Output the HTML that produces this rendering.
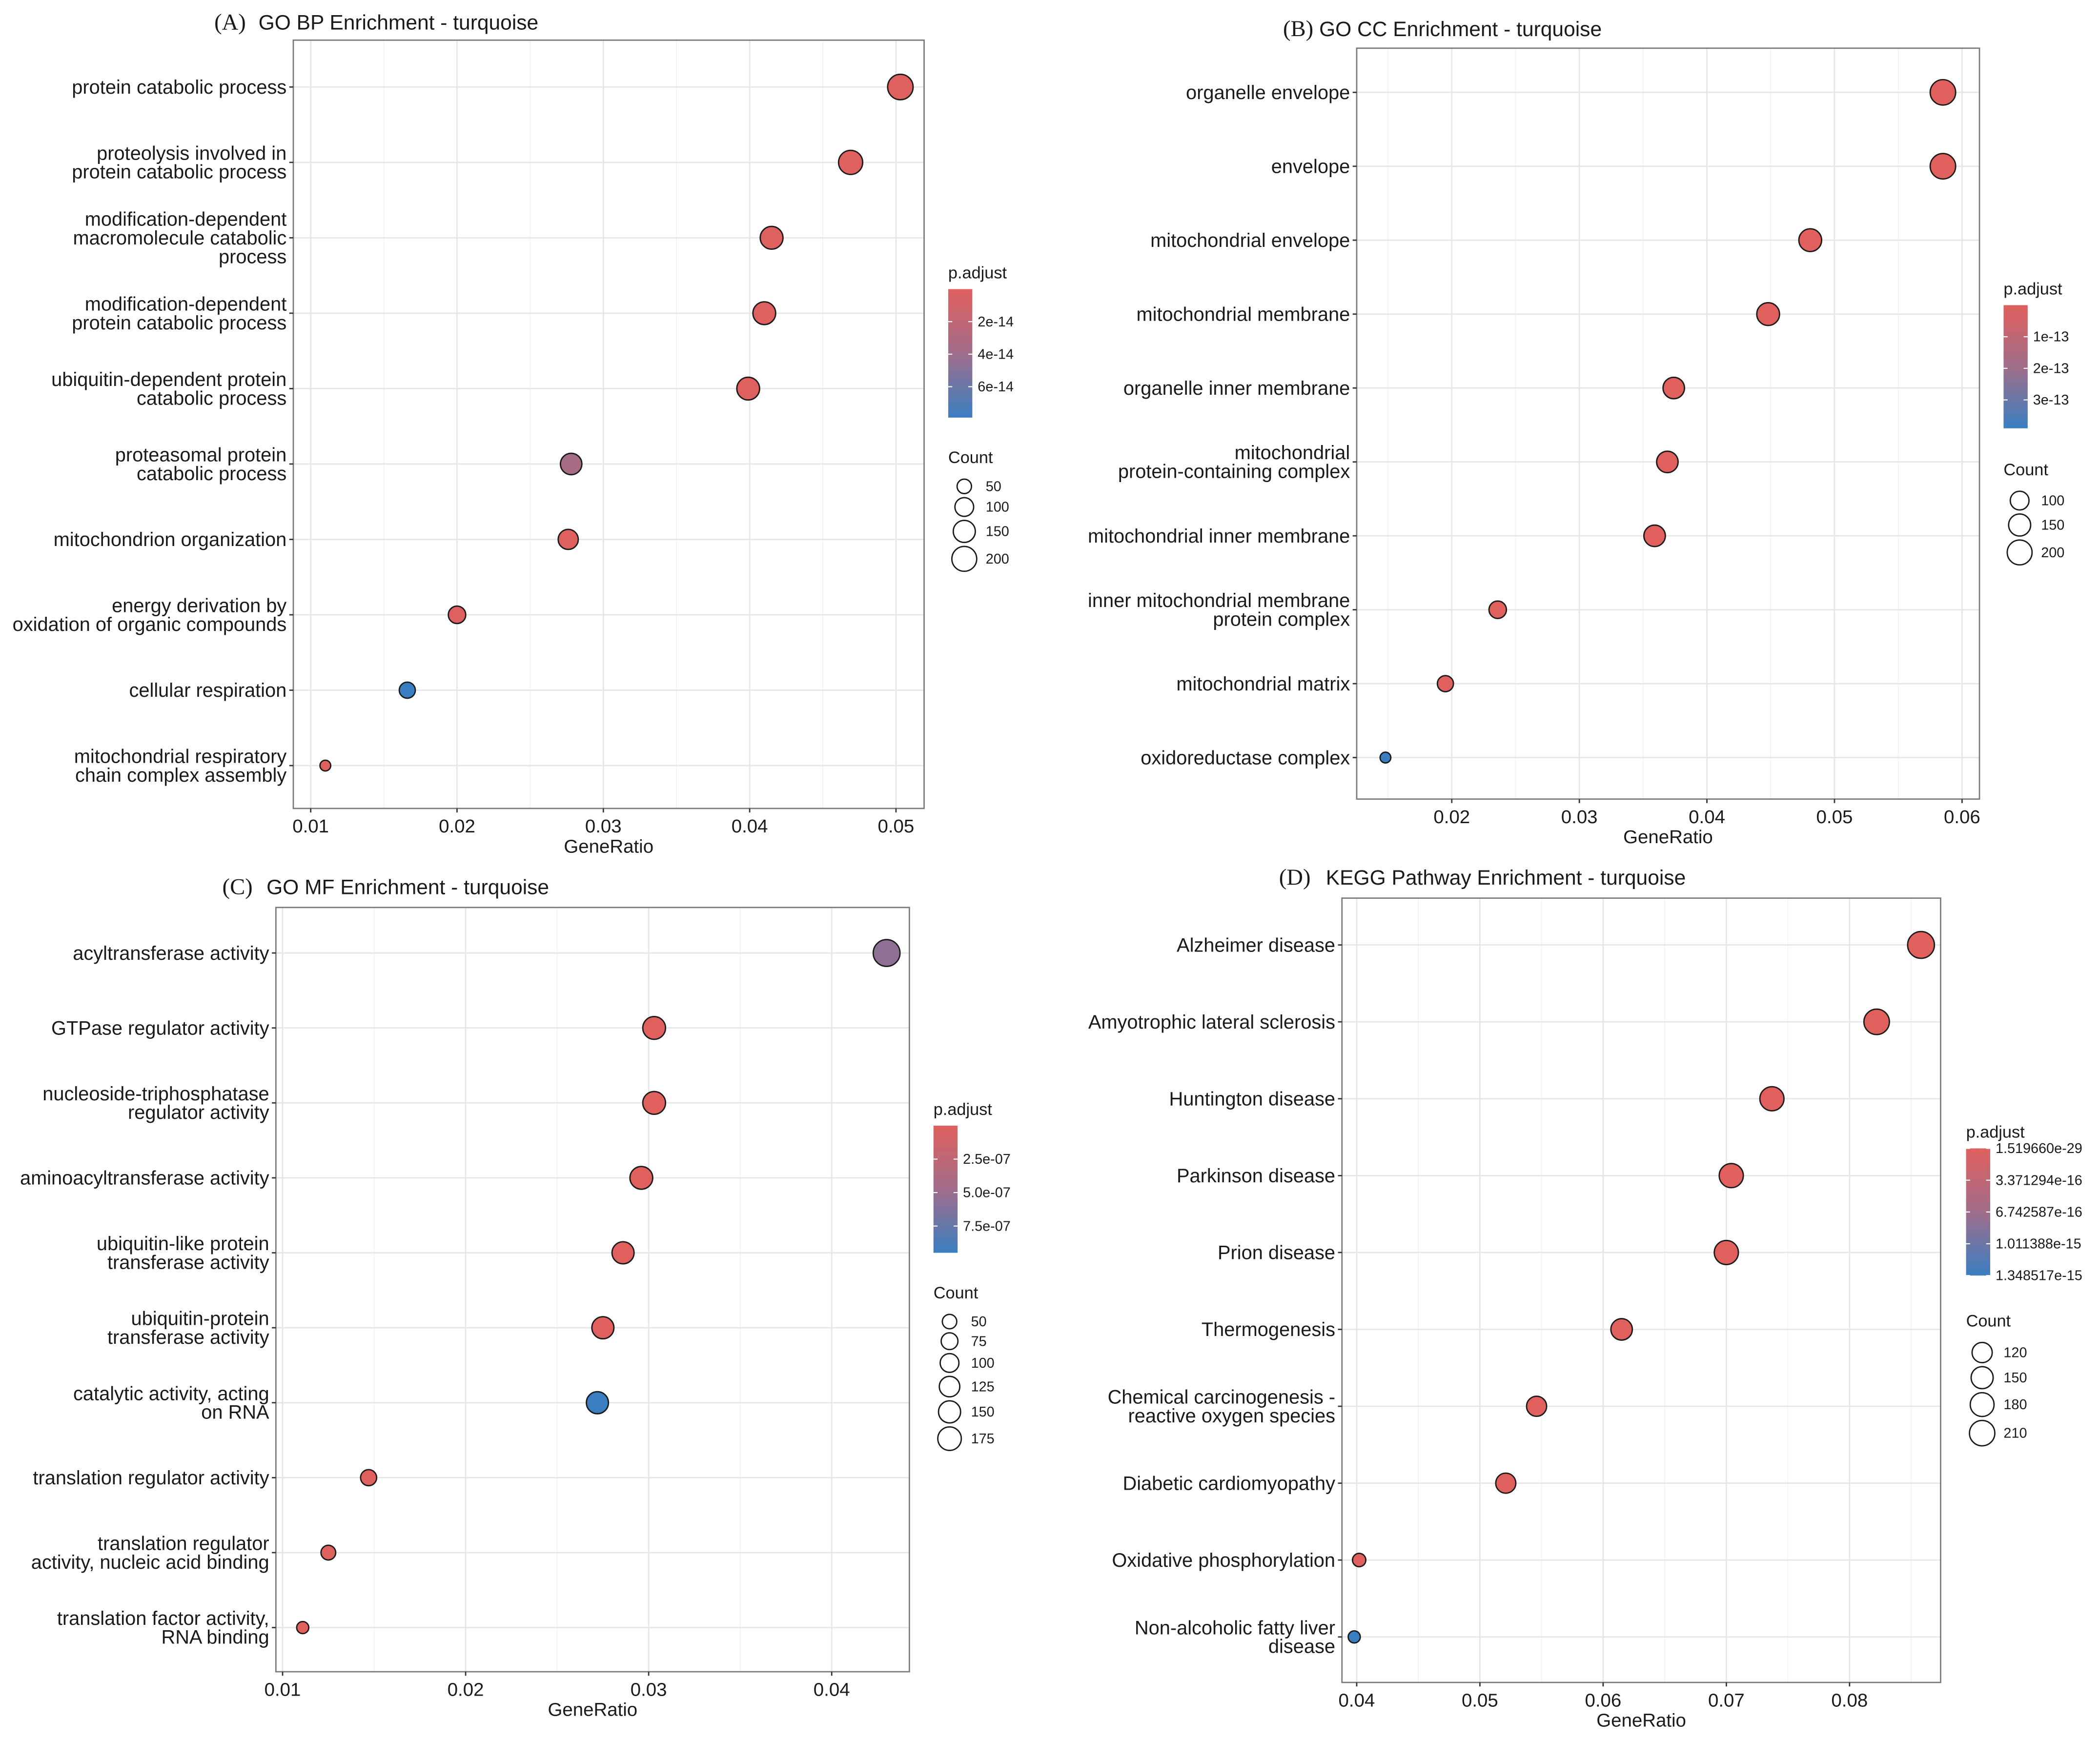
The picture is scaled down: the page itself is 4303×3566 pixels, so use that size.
<!DOCTYPE html>
<html><head><meta charset="utf-8"><style>
html,body{margin:0;padding:0;background:#fff;}
svg{display:block;}
text{font-family:"Liberation Sans","DejaVu Sans",sans-serif;fill:#1a1a1a;}
</style></head><body>
<svg id="fig" width="4303" height="3566" viewBox="0 0 1568 1300" preserveAspectRatio="none" xmlns="http://www.w3.org/2000/svg">
<defs>
<linearGradient id="pgrad" x1="0" y1="0" x2="0" y2="1">
<stop offset="0" stop-color="#e0605e"/><stop offset="0.5" stop-color="#a06d8a"/><stop offset="1" stop-color="#3a7ec1"/>
</linearGradient>
</defs>
</svg>
<script>
// ---- Panel A data ----
const catsA = ["protein catabolic process","proteolysis involved in\nprotein catabolic process","modification-dependent\nmacromolecule catabolic\nprocess","modification-dependent\nprotein catabolic process","ubiquitin-dependent protein\ncatabolic process","proteasomal protein\ncatabolic process","mitochondrion organization","energy derivation by\noxidation of organic compounds","cellular respiration","mitochondrial respiratory\nchain complex assembly"];
const ratioA = [0.0503,0.0469,0.0415,0.0410,0.0399,0.0278,0.0276,0.0200,0.0166,0.0110];
const countA = [212,186,162,162,162,140,119,83,67,21];
const padjA = [1e-15,1e-15,1e-15,1e-15,1e-15,3.5e-14,1e-15,1e-15,7.9e-14,1e-15];
const xTicksA = [0.01,0.02,0.03,0.04,0.05];
const xTickLabelsA = ["0.01","0.02","0.03","0.04","0.05"];
const pTicksA = [2e-14,4e-14,6e-14];
const pTickLabelsA = ["2e-14","4e-14","6e-14"];
const sizeLegA = [50,100,150,200];
// ---- Panel B data ----
const catsB = ["organelle envelope","envelope","mitochondrial envelope","mitochondrial membrane","organelle inner membrane","mitochondrial\nprotein-containing complex","mitochondrial inner membrane","inner mitochondrial membrane\nprotein complex","mitochondrial matrix","oxidoreductase complex"];
const ratioB = [0.0585,0.0585,0.0481,0.0448,0.0374,0.0369,0.0359,0.0236,0.0195,0.0148];
const countB = [212,212,162,162,140,140,140,83,67,21];
const padjB = [1e-15,1e-15,1e-15,1e-15,1e-15,1e-15,1e-15,1e-15,1e-15,3.9e-13];
const xTicksB = [0.02,0.03,0.04,0.05,0.06];
const xTickLabelsB = ["0.02","0.03","0.04","0.05","0.06"];
const pTicksB = [1e-13,2e-13,3e-13];
const pTickLabelsB = ["1e-13","2e-13","3e-13"];
const sizeLegB = [100,150,200];
// ---- Panel C data ----
const catsC = ["acyltransferase activity","GTPase regulator activity","nucleoside-triphosphatase\nregulator activity","aminoacyltransferase activity","ubiquitin-like protein\ntransferase activity","ubiquitin-protein\ntransferase activity","catalytic activity, acting\non RNA","translation regulator activity","translation regulator\nactivity, nucleic acid binding","translation factor activity,\nRNA binding"];
const ratioC = [0.0430,0.0303,0.0303,0.0296,0.0286,0.0275,0.0272,0.0147,0.0125,0.0111];
const countC = [239,162,162,162,150,150,150,67,53,30];
const padjC = [5.6e-7,1e-9,1e-9,1e-9,1e-9,1e-9,9.5e-7,1e-9,1e-9,1e-9];
const xTicksC = [0.01,0.02,0.03,0.04];
const xTickLabelsC = ["0.01","0.02","0.03","0.04"];
const pTicksC = [2.5e-7,5e-7,7.5e-7];
const pTickLabelsC = ["2.5e-07","5.0e-07","7.5e-07"];
const sizeLegC = [50,75,100,125,150,175];
// ---- Panel D data ----
const catsD = ["Alzheimer disease","Amyotrophic lateral sclerosis","Huntington disease","Parkinson disease","Prion disease","Thermogenesis","Chemical carcinogenesis -\nreactive oxygen species","Diabetic cardiomyopathy","Oxidative phosphorylation","Non-alcoholic fatty liver\ndisease"];
const ratioD = [0.0858,0.0822,0.0737,0.0704,0.0700,0.0615,0.0546,0.0521,0.0402,0.0398];
const countD = [239,212,186,186,186,140,119,119,40,30];
const padjD = [1.5e-29,1.5e-29,1.5e-29,1.5e-29,1.5e-29,1.5e-29,1.5e-29,1.5e-29,1.5e-29,1.348517e-15];
const xTicksD = [0.04,0.05,0.06,0.07,0.08];
const xTickLabelsD = ["0.04","0.05","0.06","0.07","0.08"];
const pTicksD = [1.51966e-29,3.371294e-16,6.742587e-16,1.011388e-15,1.348517e-15];
const pTickLabelsD = ["1.519660e-29","3.371294e-16","6.742587e-16","1.011388e-15","1.348517e-15"];
const sizeLegD = [120,150,180,210];

const NS="http://www.w3.org/2000/svg";
const svg=document.getElementById('fig');
function mk(tag,attrs,parent){const e=document.createElementNS(NS,tag);for(const k in attrs)e.setAttribute(k,attrs[k]);(parent||svg).appendChild(e);return e;}
function rOf(c){return 1.5+0.55*Math.sqrt(c);}
function lerp(a,b,t){return a.map((v,i)=>Math.round(v+(b[i]-v)*t));}
function colorOf(t){t=Math.max(0,Math.min(1,t));const R=[224,96,94],M=[160,109,138],B=[58,126,193];const c=t<0.5?lerp(R,M,t*2):lerp(M,B,(t-0.5)*2);return 'rgb('+c.join(',')+')';}

function panel(cfg){
  const g=mk('g',{});
  
  
  const L=cfg.box[0],T=cfg.box[1],R=cfg.box[2],Bt=cfg.box[3];
  const xs=v=>cfg.xpx[0]+(v-cfg.xd[0])/(cfg.xd[1]-cfg.xd[0])*(cfg.xpx[1]-cfg.xpx[0]);
  const n=cfg.cats.length;
  const ys=i=>cfg.ypx[0]+i*(cfg.ypx[1]-cfg.ypx[0])/(n-1);
  const tl=mk('text',{x:cfg.title[0],y:cfg.title[1],'font-size':17,style:'font-family:"Liberation Serif",serif'},g);
  tl.textContent=cfg.letter;
  
  
  const tt=mk('text',{x:cfg.title[2],y:cfg.title[1],'font-size':15.5},g);
  tt.textContent=cfg.titleText;
  
  
  const step=cfg.xTicks[1]-cfg.xTicks[0];
  const minor=[];for(let i=-1;i<cfg.xTicks.length;i++)minor.push(cfg.xTicks[0]+(i+0.5)*step);
  minor.forEach(v=>{const x=xs(v);if(x>L&&x<R){const l=mk('line',{x1:x,x2:x,y1:T,y2:Bt,stroke:'#f2f2f2','stroke-width':0.6},g);}});
  cfg.xTicks.forEach(v=>{const x=xs(v);const l=mk('line',{x1:x,x2:x,y1:T,y2:Bt,stroke:'#e6e6e6','stroke-width':1},g);});
  for(let i=0;i<n;i++){const y=ys(i);const l=mk('line',{x1:L,x2:R,y1:y,y2:y,stroke:'#e6e6e6','stroke-width':1},g);}
  const box=mk('rect',{x:L,y:T,width:R-L,height:Bt-T,fill:'none',stroke:'#7a7a7a','stroke-width':1},g);
  
  
  cfg.xTicks.forEach((v,i)=>{const x=xs(v);mk('line',{x1:x,x2:x,y1:Bt,y2:Bt+3,stroke:'#333','stroke-width':1},g);
    const t=mk('text',{x:x,y:Bt+18,'font-size':14,'text-anchor':'middle'},g);t.textContent=cfg.xTickLabels[i];
    
    });
  const xt=mk('text',{x:(L+R)/2,y:Bt+33,'font-size':14,'text-anchor':'middle'},g);xt.textContent='GeneRatio';
  
  
  cfg.cats.forEach((c,i)=>{const y=ys(i);mk('line',{x1:L-3,x2:L,y1:y,y2:y,stroke:'#333','stroke-width':1},g);
    const lines=c.split('\n');const lh=14;const y0=y-(lines.length-1)*lh/2+5;
    const t=mk('text',{x:L-5,y:y0,'font-size':14.5,'text-anchor':'end'},g);
    
    
    lines.forEach((s,k)=>{const sp=mk('tspan',{x:L-5,dy:k?lh:0},t);sp.textContent=s;});});
  const pd=cfg.pd;
  cfg.cats.forEach((c,i)=>{const cc=mk('circle',{cx:xs(cfg.ratio[i]),cy:ys(i),r:rOf(cfg.count[i]),fill:colorOf((cfg.padj[i]-pd[0])/(pd[1]-pd[0])),stroke:'#1a1a1a','stroke-width':1},g);
    
    });
  const lx=cfg.leg[0];const cb=cfg.cbar;
  const pt=mk('text',{x:lx,y:cb[0]-8,'font-size':12.5},g);pt.textContent='p.adjust';
  
  
  const bar=mk('rect',{x:lx,y:cb[0],width:18,height:cb[1]-cb[0],fill:'url(#pgrad)'},g);
  
  
  cfg.pTicks.forEach((v,i)=>{const y=cb[0]+(v-pd[0])/(pd[1]-pd[0])*(cb[1]-cb[0]);
    mk('line',{x1:lx,x2:lx+3,y1:y,y2:y,stroke:'#fff','stroke-width':0.8},g);mk('line',{x1:lx+15,x2:lx+18,y1:y,y2:y,stroke:'#fff','stroke-width':0.8},g);
    const t=mk('text',{x:lx+22,y:y+3.5,'font-size':10.5},g);t.textContent=cfg.pTickLabels[i];
    
    });
  const ct=mk('text',{x:lx,y:cfg.leg[1],'font-size':12.5},g);ct.textContent='Count';
  
  
  let y=cfg.leg[1]+10;
  cfg.sizeLeg.forEach((v,i)=>{const r=rOf(v);y+=r+ (i?3:2);
    const c=mk('circle',{cx:lx+12,cy:y,r:r,fill:'none',stroke:'#1a1a1a','stroke-width':1},g);
    
    
    const t=mk('text',{x:lx+28,y:y+3.5,'font-size':10.5},g);t.textContent=String(v);
    
    
    y+=r;});
}

panel({name:'panel-a-go-bp',letter:'(A)',titleText:'GO BP Enrichment - turquoise',title:[160,22,193],box:[219,30,690,604],xpx:[232,669],xd:[0.01,0.05],ypx:[65,572],
  cats:catsA,ratio:ratioA,count:countA,padj:padjA,xTicks:xTicksA,xTickLabels:xTickLabelsA,pd:[0,7.9e-14],pTicks:pTicksA,pTickLabels:pTickLabelsA,sizeLeg:sizeLegA,leg:[708,346],cbar:[216,312]});
panel({name:'panel-b-go-cc',letter:'(B)',titleText:'GO CC Enrichment - turquoise',title:[958,27,985],box:[1013,36,1478,597],xpx:[1084,1465],xd:[0.02,0.06],ypx:[69,566],
  cats:catsB,ratio:ratioB,count:countB,padj:padjB,xTicks:xTicksB,xTickLabels:xTickLabelsB,pd:[0,3.9e-13],pTicks:pTicksB,pTickLabels:pTickLabelsB,sizeLeg:sizeLegB,leg:[1496,355],cbar:[228,320]});
panel({name:'panel-c-go-mf',letter:'(C)',titleText:'GO MF Enrichment - turquoise',title:[166,668,199],box:[206,678,679,1249],xpx:[211,621],xd:[0.01,0.04],ypx:[712,1216],
  cats:catsC,ratio:ratioC,count:countC,padj:padjC,xTicks:xTicksC,xTickLabels:xTickLabelsC,pd:[0,9.5e-7],pTicks:pTicksC,pTickLabels:pTickLabelsC,sizeLeg:sizeLegC,leg:[697,970],cbar:[841,936]});
panel({name:'panel-d-kegg',letter:'(D)',titleText:'KEGG Pathway Enrichment - turquoise',title:[955,661,990],box:[1002,671,1449,1257],xpx:[1013,1381],xd:[0.04,0.08],ypx:[706,1223],
  cats:catsD,ratio:ratioD,count:countD,padj:padjD,xTicks:xTicksD,xTickLabels:xTickLabelsD,pd:[1.51966e-29,1.348517e-15],pTicks:pTicksD,pTickLabels:pTickLabelsD,sizeLeg:sizeLegD,leg:[1468,991],cbar:[858,953]});
</script>
</body></html>
